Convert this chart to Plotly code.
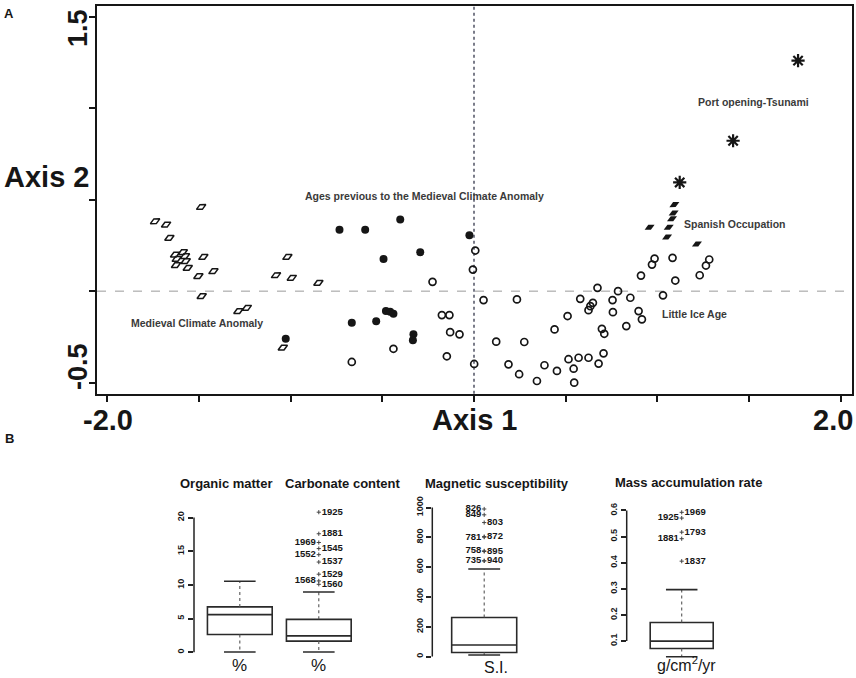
import plotly.graph_objects as go

# ---------------- panel A: ordination scores ----------------
mca_x = [-1.487, -1.738, -1.678, -1.660, -1.629, -1.587, -1.575, -1.620, -1.571, -1.624,
         -1.560, -1.475, -1.502, -1.420, -1.484, -1.284, -1.238, -1.017, -1.079, -0.993,
         -0.848, -1.042]
mca_y = [0.460, 0.382, 0.364, 0.291, 0.200, 0.213, 0.191, 0.176, 0.164, 0.142,
         0.127, 0.187, 0.082, 0.109, -0.027, -0.109, -0.091, 0.187, 0.087, 0.073,
         0.045, -0.309]

pre_x = [-0.733, -0.593, -0.402, -0.025, -0.293, -0.493, -0.480, -0.457, -0.439, -0.533,
         -0.666, -0.330, -0.333, -1.026]
pre_y = [0.336, 0.336, 0.391, 0.305, 0.213, 0.176, -0.109, -0.113, -0.124, -0.164,
         -0.173, -0.236, -0.269, -0.260]

lia_x = [-0.226, -0.006, 0.007, -0.175, -0.134, -0.130, -0.079, -0.148, -0.439, -0.666,
         0.001, 0.052, 0.234, 0.121, 0.274, 0.188, 0.246, 0.343, 0.384, 0.452,
         0.439, 0.510, 0.515, 0.543, 0.546, 0.570, 0.579, 0.624, 0.624, 0.634,
         0.648, 0.673, 0.679, 0.697, 0.710, 0.706, 0.755, 0.757, 0.785, 0.830,
         0.852, 0.897, 0.915, 0.910, 0.970, 0.984, 1.030, 1.082, 1.097, 1.230,
         1.264, 1.282]
lia_y = [0.051, 0.118, 0.222, -0.131, -0.131, -0.224, -0.236, -0.356, -0.315, -0.387,
         -0.398, -0.049, -0.045, -0.276, -0.278, -0.400, -0.454, -0.491, -0.405, -0.436,
         -0.209, -0.136, -0.372, -0.424, -0.500, -0.364, -0.042, -0.364, -0.104, -0.082,
         -0.064, 0.018, -0.396, -0.206, -0.233, -0.340, -0.049, -0.115, 0.000, -0.191,
         -0.036, -0.109, -0.154, 0.085, 0.145, 0.178, -0.023, 0.182, 0.058, 0.087,
         0.140, 0.173]

spa_x = [1.092, 1.088, 1.079, 1.061, 1.052, 0.957, 1.215]
spa_y = [0.473, 0.427, 0.396, 0.349, 0.296, 0.349, 0.258]

port_x = [1.766, 1.412, 1.121]
port_y = [1.260, 0.822, 0.594]

# ---------------- panel B: box plot statistics ----------------
om_stats = dict(lf=0.05, q1=2.65, med=5.6, q3=6.75, uf=10.55)
cc_stats = dict(lf=0.05, q1=1.67, med=2.45, q3=4.9, uf=8.95)
ms_stats = dict(lf=10, q1=27, med=78, q3=262, uf=587)
mar_stats = dict(lf=0.040, q1=0.072, med=0.100, q3=0.171, uf=0.297)

cc_out_val = [20.8, 17.6, 16.3, 15.4, 14.5, 13.4, 11.6, 10.6, 10.1]
cc_out_lab = ["1925", "1881", "1969", "1545", "1552", "1537", "1529", "1568", "1560"]
cc_out_side = ["R", "R", "L", "R", "L", "R", "R", "L", "R"]

ms_out_val = [990, 951, 899, 801, 805, 709, 705, 642, 642]
ms_out_lab = ["826", "849", "803", "781", "872", "758", "895", "735", "940"]
ms_out_side = ["L", "L", "R", "L", "R", "L", "R", "L", "R"]

mar_out_val = [0.571, 0.593, 0.492, 0.517, 0.406]
mar_out_lab = ["1925", "1969", "1881", "1793", "1837"]
mar_out_side = ["L", "R", "L", "R", "R"]

FONT = "Liberation Sans, Arial, sans-serif"
INK = "#161616"

fig = go.Figure()

# scatter groups
fig.add_trace(go.Scatter(x=mca_x, y=mca_y, mode="markers",
                         marker=dict(symbol="diamond-wide-open", angle=-27, size=7.5,
                                     color=INK, line=dict(width=1.5, color=INK))))
fig.add_trace(go.Scatter(x=pre_x, y=pre_y, mode="markers",
                         marker=dict(symbol="circle", size=8, color=INK)))
fig.add_trace(go.Scatter(x=lia_x, y=lia_y, mode="markers",
                         marker=dict(symbol="circle-open", size=7,
                                     color=INK, line=dict(width=1.7, color=INK))))
fig.add_trace(go.Scatter(x=spa_x, y=spa_y, mode="markers",
                         marker=dict(symbol="diamond-wide", angle=-27, size=8, color=INK)))
fig.add_trace(go.Scatter(x=port_x, y=port_y, mode="markers",
                         marker=dict(symbol="asterisk-open", size=11, color=INK,
                                     line=dict(width=2.2, color=INK))))


def add_box(axis, pos, st, width, capw):
    xa, ya = "x" + axis, "y" + axis
    fig.add_trace(go.Box(x=[pos], q1=[st["q1"]], median=[st["med"]], q3=[st["q3"]],
                         lowerfence=[st["q1"]], upperfence=[st["q3"]],
                         width=width, whiskerwidth=0, boxpoints=False,
                         fillcolor="white", line=dict(color="#2a2a2a", width=1.6),
                         xaxis=xa, yaxis=ya))
    fig.add_trace(go.Scatter(x=[pos, pos, None, pos, pos],
                             y=[st["q3"], st["uf"], None, st["q1"], st["lf"]],
                             mode="lines", line=dict(color="#555", width=1.1, dash="dot"),
                             xaxis=xa, yaxis=ya))
    fig.add_trace(go.Scatter(x=[pos - capw / 2, pos + capw / 2, None, pos - capw / 2, pos + capw / 2],
                             y=[st["uf"], st["uf"], None, st["lf"], st["lf"]],
                             mode="lines", line=dict(color="#2a2a2a", width=1.6),
                             xaxis=xa, yaxis=ya))


def add_outliers(axis, pos, vals, labs, sides):
    pos_txt = ["middle right" if s == "R" else "middle left" for s in sides]
    fig.add_trace(go.Scatter(x=[pos] * len(vals), y=vals, mode="markers+text",
                             text=labs, textposition=pos_txt,
                             textfont=dict(family=FONT, size=9.5, color=INK, weight="bold"),
                             marker=dict(symbol="cross-thin-open", size=3, color="#444",
                                         line=dict(width=1, color="#444")),
                             xaxis="x" + axis, yaxis="y" + axis))


add_box("2", 0, om_stats, 0.82, 0.40)
add_box("2", 1, cc_stats, 0.82, 0.40)
add_outliers("2", 1, cc_out_val, cc_out_lab, cc_out_side)
add_box("3", 0, ms_stats, 1.0, 0.49)
add_outliers("3", 0, ms_out_val, ms_out_lab, ms_out_side)
add_box("4", 0, mar_stats, 1.0, 0.50)
add_outliers("4", 0, mar_out_val, mar_out_lab, mar_out_side)

hidden_x = dict(showticklabels=False, showline=False, showgrid=False, zeroline=False, ticks="")
box_y = dict(ticks="outside", ticklen=5, tickwidth=1.5, tickcolor="#222", tickangle=-90,
             showline=False, showgrid=False, zeroline=False,
             tickfont=dict(family=FONT, size=9, color=INK, weight="bold"))

fig.update_layout(
    width=856, height=678, showlegend=False,
    margin=dict(l=0, r=0, t=0, b=0),
    paper_bgcolor="white", plot_bgcolor="white",
    font=dict(family=FONT, color=INK),
    xaxis=dict(domain=[0.11332, 0.99533], range=[-2.0545, 2.060],
               tickvals=[-2, -1.5, -1, -0.5, 0, 0.5, 1, 1.5, 2], showticklabels=False,
               ticks="outside", ticklen=6, tickwidth=2, tickcolor=INK,
               showline=True, linewidth=2, linecolor=INK, mirror=True,
               showgrid=False, zeroline=False, anchor="y"),
    yaxis=dict(domain=[0.42035, 0.99410], range=[-0.5613, 1.5586],
               tickvals=[-0.5, 0, 0.5, 1, 1.5], showticklabels=False,
               ticks="outside", ticklen=6, tickwidth=2, tickcolor=INK,
               showline=True, linewidth=2, linecolor=INK, mirror=True,
               showgrid=False, zeroline=False, anchor="x"),
    xaxis2=dict(domain=[0.22664, 0.42640], range=[-0.580, 1.585], anchor="y2", **hidden_x),
    yaxis2=dict(domain=[0.02794, 0.25028], range=[-1.0, 21.3], anchor="x2",
                tickvals=[0, 5, 10, 15, 20], **box_y),
    xaxis3=dict(domain=[0.50502, 0.63084], range=[-0.798, 0.858], anchor="y3", **hidden_x),
    yaxis3=dict(domain=[0.02068, 0.26544], range=[-50, 1060], anchor="x3",
                tickvals=[0, 200, 400, 600, 800, 1000], **box_y),
    xaxis4=dict(domain=[0.73213, 0.86449], range=[-0.873, 0.925], anchor="y4", **hidden_x),
    yaxis4=dict(domain=[0.02752, 0.25552], range=[0.03, 0.62], anchor="x4",
                tickvals=[0.1, 0.2, 0.3, 0.4, 0.5, 0.6], **box_y),
)

# reference lines at the origin of panel A
fig.add_shape(type="line", xref="x", yref="y domain", x0=0, x1=0, y0=0, y1=1,
              line=dict(color="#34374a", width=1.3, dash="dot"), layer="below")
fig.add_shape(type="line", xref="x domain", yref="y", x0=0, x1=1, y0=0, y1=0,
              line=dict(color="#9a9a9a", width=1, dash="dash"), layer="below")

# R-style axis lines spanning the tick range only
for ax, lo, hi in [("2", 0, 20), ("3", 0, 1000), ("4", 0.1, 0.6)]:
    fig.add_shape(type="line", xref="x" + ax + " domain", yref="y" + ax,
                  x0=0, x1=0, y0=lo, y1=hi, line=dict(color="#222", width=1.5))


def note(text, x, y, size, xref="paper", yref="paper", xanchor="center", angle=0,
         bold=True, color=INK):
    fig.add_annotation(text=text, x=x, y=y, xref=xref, yref=yref, showarrow=False,
                       xanchor=xanchor, yanchor="middle", textangle=angle,
                       font=dict(family=FONT, size=size, color=color,
                                 weight="bold" if bold else "normal"))


def px(xp, yp):
    return xp / 856, 1 - yp / 678


# panel letters
note("A", *px(9, 12), 13)
note("B", *px(9, 438), 13)

# panel A axis text
note("Axis 2", *px(46, 176), 29)
note("Axis 1", *px(474, 419), 29)
note("-2.0", *px(108, 419), 29)
note("2.0", *px(855, 419), 29, xanchor="right")
note("1.5", *px(78, 26), 27, angle=-90)
note("-0.5", *px(78, 366), 27, angle=-90)

# group labels in panel A
GREY = "#3a3a3a"
note("Ages previous to the Medieval Climate Anomaly", -0.269, 0.522, 10.5, "x", "y", color=GREY)
note("Medieval Climate Anomaly", -1.507, -0.173, 10.5, "x", "y", color=GREY)
note("Port opening-Tsunami", 1.522, 1.032, 10.5, "x", "y", color=GREY)
note("Spanish Occupation", 1.132, 0.369, 10.5, "x", "y", xanchor="left", color=GREY)
note("Little Ice Age", 1.014, -0.124, 10.5, "x", "y", xanchor="left", color=GREY)

# panel B titles and units
note("Organic matter", *px(226, 483), 13)
note("Carbonate content", *px(343, 483), 13)
note("Magnetic susceptibility", *px(497, 483), 13)
note("Mass accumulation rate", *px(688, 482), 13)
note("%", *px(240, 665), 17, bold=False)
note("%", *px(318, 665), 17, bold=False)
note("S.I.", *px(496, 667), 16, bold=False)
note("g/cm<sup>2</sup>/yr", *px(686, 664), 16, bold=False)

# the page's default body margin would push the figure off its 856x678 frame
fig.write_html("out.html", config={"displayModeBar": False},
               post_script="document.body.style.margin='0';")
